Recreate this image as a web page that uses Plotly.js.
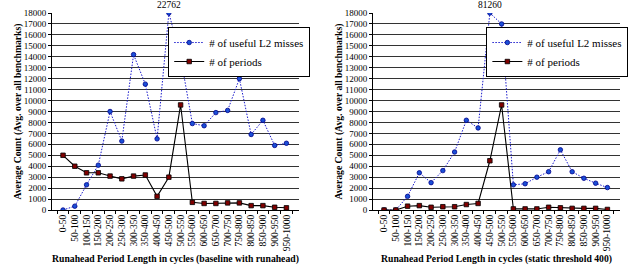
<!DOCTYPE html>
<html>
<head>
<meta charset="utf-8">
<script src="https://cdn.plot.ly/plotly-3.0.1.min.js"></script>
<style>html,body{margin:0;padding:0;background:#fff;font-family:'Liberation Serif';}#chart{width:630px;height:265px;}</style>
</head>
<body>
<div id="chart"></div>
<script>
const categories = ["0-50","50-100","100-150","150-200","200-250","250-300","300-350","350-400","400-450","450-500","500-550","550-600","600-650","650-700","700-750","750-800","800-850","850-900","900-950","950-1000"];

// Left: baseline with runahead
const leftMisses  = [0, 350, 2300, 4100, 9000, 6300, 14200, 11500, 6500, 22762, 14000, 7900, 7700, 8900, 9100, 12000, 6900, 8200, 5900, 6100];
const leftPeriods = [5000, 4000, 3400, 3400, 3100, 2850, 3100, 3200, 1250, 3000, 9600, 700, 600, 600, 650, 650, 400, 400, 250, 200];

// Right: static threshold 400
const rightMisses  = [0, 0, 1250, 3400, 2500, 3600, 5300, 8200, 7500, 81260, 17000, 2300, 2400, 3000, 3500, 5500, 3500, 2900, 2450, 2050];
const rightPeriods = [0, 0, 350, 400, 250, 300, 300, 500, 600, 4500, 9600, 100, 100, 100, 250, 200, 150, 150, 150, 50];

const yMax = 18000;
const clip = arr => arr.map(v => Math.min(v, yMax));

const serif = 'Liberation Serif';
const missStyle = {mode:'lines+markers', line:{color:'#1a1acc', width:1, dash:'1.5px,1.5px'},
  marker:{symbol:'circle', size:4.5, color:'#1a4fd6', line:{color:'#00008b', width:0.8}}};
const perStyle = {mode:'lines+markers', line:{color:'#000', width:1.1},
  marker:{symbol:'square', size:4.5, color:'#800000', line:{color:'#000', width:0.8}}};

const traces = [
  Object.assign({x:categories, y:clip(leftMisses), name:'# of useful L2 misses', xaxis:'x', yaxis:'y', legend:'legend'}, missStyle),
  Object.assign({x:categories, y:clip(leftPeriods), name:'# of periods', xaxis:'x', yaxis:'y', legend:'legend'}, perStyle),
  Object.assign({x:categories, y:clip(rightMisses), name:'# of useful L2 misses', xaxis:'x2', yaxis:'y2', legend:'legend2'}, missStyle),
  Object.assign({x:categories, y:clip(rightPeriods), name:'# of periods', xaxis:'x2', yaxis:'y2', legend:'legend2'}, perStyle)
];

function xa(domain, title, anchor){
  return {domain:domain, anchor:anchor, type:'category', categoryorder:'array', categoryarray:categories,
    range:[-0.94, 20.07], tickangle:-90, tickfont:{family:serif, size:9.5, color:'#000'},
    showline:true, linecolor:'#000', linewidth:1, ticks:'outside', tickson:'boundaries', ticklen:3, tickcolor:'#000',
    showgrid:false, zeroline:false, automargin:false,
    title:{text:'<b>'+title+'</b>', font:{family:serif, size:9.7, color:'#000'}, standoff:6}};
}
function ya(domain, anchor){
  return {domain:domain, anchor:anchor, range:[0, yMax], dtick:1000, tickformat:'d', tickfont:{family:serif, size:9, color:'#000'},
    showline:true, linecolor:'#000', linewidth:1, ticks:'outside', ticklen:3, tickcolor:'#000',
    showgrid:true, gridcolor:'#333', gridwidth:1, zeroline:false, automargin:false,
    title:{text:'<b>Average Count (Avg. over all benchmarks)</b>', font:{family:serif, size:9.7, color:'#000'}, standoff:0}};
}

const peakL = leftMisses.indexOf(Math.max(...leftMisses));
const peakR = rightMisses.indexOf(Math.max(...rightMisses));

function legendCfg(x){
  return {x:x, y:0.898, xanchor:'left', yanchor:'top', bgcolor:'#fff', bordercolor:'#000', borderwidth:1,
    font:{family:serif, size:11, color:'#000'}, tracegroupgap:0, itemwidth:30};
}

const layout = {
  width:630, height:265, margin:{l:0, r:0, t:0, b:0}, paper_bgcolor:'#fff', plot_bgcolor:'#fff',
  font:{family:serif, color:'#000'},
  xaxis: xa([0.0825, 0.4746], 'Runahead Period Length in cycles (baseline with runahead)', 'y'),
  yaxis: ya([0.2075, 0.9509], 'x'),
  xaxis2: xa([0.5921, 0.9841], 'Runahead Period Length in cycles (static threshold 400)', 'y2'),
  yaxis2: ya([0.2075, 0.9509], 'x2'),
  legend: legendCfg(0.267),
  legend2: legendCfg(0.772),
  annotations:[
    {xref:'x', yref:'paper', x:categories[peakL], y:0.9509, yanchor:'bottom', yshift:1, showarrow:false,
     text:String(leftMisses[peakL]), font:{family:serif, size:9.5, color:'#000'}},
    {xref:'x2', yref:'paper', x:categories[peakR], y:0.9509, yanchor:'bottom', yshift:1, showarrow:false,
     text:String(rightMisses[peakR]), font:{family:serif, size:9.5, color:'#000'}}
  ],
  showlegend:true
};

Plotly.newPlot('chart', traces, layout, {staticPlot:true, displayModeBar:false});
</script>
</body>
</html>
